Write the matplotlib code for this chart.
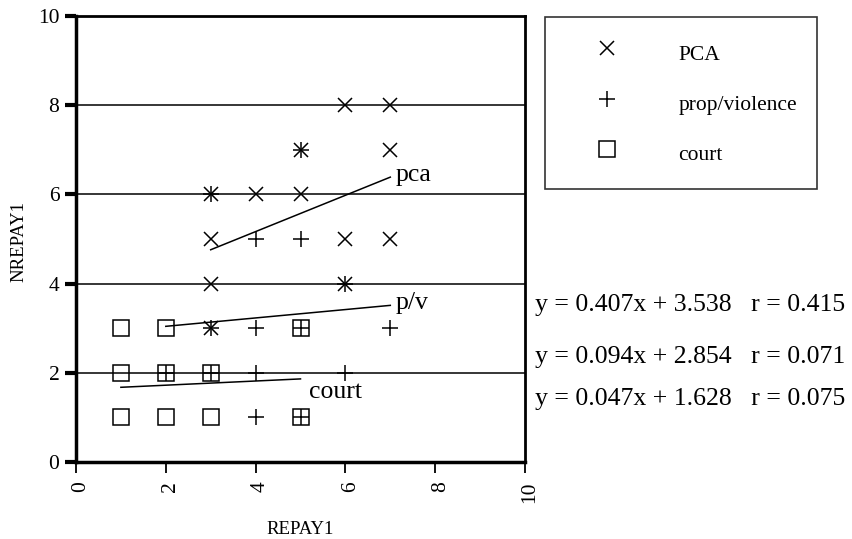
import numpy as np
import matplotlib
matplotlib.use('Agg')
from matplotlib import pyplot as plt
from matplotlib import transforms

plt.rcParams['font.family'] = ['Liberation Serif', 'DejaVu Serif']

# scatter data (REPAY1, NREPAY1) per group
pca_x = [3, 4, 5, 5, 6, 7, 7, 3, 6, 7, 3, 6, 3]
pca_y = [6, 6, 6, 7, 8, 8, 7, 5, 5, 5, 4, 4, 3]
pv_x = [3, 5, 4, 5, 6, 3, 4, 5, 7, 2, 3, 4, 6, 4, 5]
pv_y = [6, 7, 5, 5, 4, 3, 3, 3, 3, 2, 2, 2, 2, 1, 1]
court_x = [1, 2, 5, 1, 2, 3, 1, 2, 3, 5]
court_y = [3, 3, 3, 2, 2, 2, 1, 1, 1, 1]

# fitted lines
slopes = [0.407, 0.094, 0.047]
intercepts = [3.538, 2.854, 1.628]
r_vals = [0.415, 0.071, 0.075]
line_labels = ['pca', 'p/v', 'court']
legend_names = ['PCA', 'prop/violence', 'court']

ticks = [0, 2, 4, 6, 8, 10]

fig = plt.figure(figsize=(8.52, 5.39), dpi=100)
ax = fig.add_axes([76 / 852, 1 - 462 / 539, 449 / 852, 446 / 539])

for g in [2, 4, 6, 8]:
    ax.axhline(g, color='black', lw=1.1, zorder=1)

mk = dict(linestyle='none', color='black', markeredgewidth=1.1)
h1, = ax.plot(pca_x, pca_y, marker='x', markersize=9.5, label=legend_names[0], **mk)
h2, = ax.plot(pv_x, pv_y, marker='+', markersize=12, label=legend_names[1], **mk)
h3, = ax.plot(court_x, court_y, marker='s', markersize=11, markerfacecolor='none',
              label=legend_names[2], **mk)

groups = [(pca_x, pca_y), (pv_x, pv_y), (court_x, court_y)]
for (gx, gy), m, b, lab in zip(groups, slopes, intercepts, line_labels):
    xs = np.array([min(gx), max(gx)])
    ys = m * xs + b
    ax.plot(xs, ys, color='black', lw=1.1, zorder=3)
    # label next to the right end of each fit line
    if lab == 'court':
        ax.text(xs[1] + 0.18, ys[1] - 0.3, lab, fontsize=18.5, ha='left', va='center')
    else:
        ax.text(xs[1] + 0.12, ys[1] + 0.05, lab, fontsize=18.5, ha='left', va='center')

ax.set_xlim(0, 10)
ax.set_ylim(0, 10)
ax.set_xticks(ticks)
ax.set_yticks(ticks)
ax.set_xticklabels([str(t) for t in ticks], rotation=90, fontsize=15.5)
ax.set_yticklabels([str(t) for t in ticks], fontsize=15.5)
ax.tick_params(axis='y', direction='out', length=8, width=3, pad=4)
ax.tick_params(axis='x', direction='out', length=8, width=1.3, pad=6)
shift = transforms.ScaledTranslation(0.05, 0, fig.dpi_scale_trans)
for lbl in ax.get_xticklabels():
    lbl.set_transform(lbl.get_transform() + shift)
for side in ['left', 'bottom']:
    ax.spines[side].set_linewidth(2.5)
for side in ['top', 'right']:
    ax.spines[side].set_linewidth(2)

ax.set_xlabel('REPAY1', fontsize=13.5, va='center')
ax.xaxis.set_label_coords(0.5, -(529 - 462) / 446)
ax.set_ylabel('NREPAY1', fontsize=13.5, va='center')
ax.yaxis.set_label_coords(-(76 - 19) / 449, 0.495)

leg = ax.legend(handles=[h1, h2, h3], loc='upper left',
                bbox_to_anchor=(545 / 852, 1 - 17 / 539), bbox_transform=fig.transFigure,
                fontsize=15.5, frameon=True, fancybox=False, edgecolor='black',
                borderpad=0.93, handlelength=3.9, handleheight=1.87, handletextpad=1.37,
                labelspacing=0.88, numpoints=1, borderaxespad=0)
leg.get_frame().set_linewidth(1.2)

eq_y = [305, 357, 399]
for m, b, r, yy in zip(slopes, intercepts, r_vals, eq_y):
    fig.text(535 / 852, 1 - yy / 539, f'y = {m:.3f}x + {b:.3f}   r = {r:.3f}',
             fontsize=18.5, ha='left', va='center')

fig.savefig('out.png', dpi=100)
